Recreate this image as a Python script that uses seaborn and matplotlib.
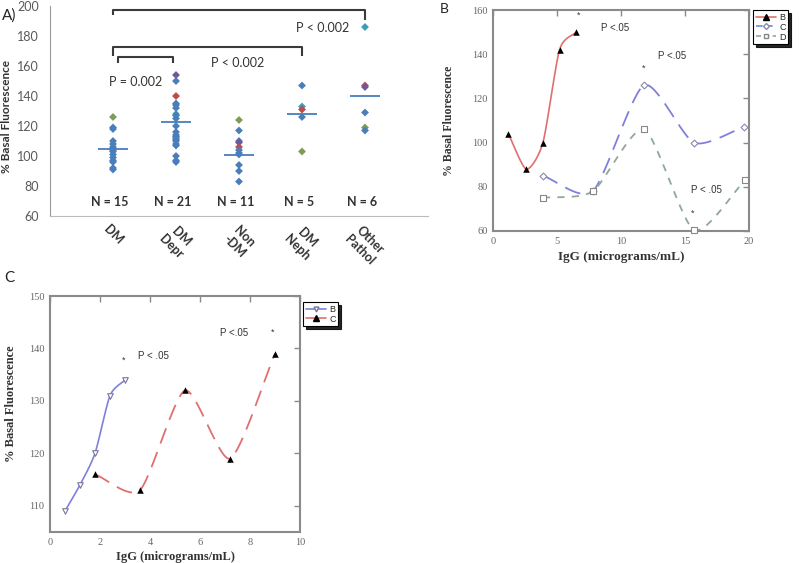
import numpy as np
import pandas as pd
import matplotlib
matplotlib.use("Agg")
import matplotlib.pyplot as plt
import seaborn as sns
from matplotlib.lines import Line2D

# ---------------- panel A data ----------------
groups = ["DM", "DM\nDepr", "Non\n-DM", "DM\nNeph", "Other\nPathol"]
dm_vals = [126, 119, 118, 110, 108, 106, 105, 104, 103, 101, 99, 97, 96, 92, 91]
dm_depr_vals = [154, 150, 140, 135, 134, 132, 128, 127, 125, 120, 116,
                114, 113, 112, 111, 110, 108, 107, 100, 97, 96]
non_dm_vals = [124, 117, 110, 109, 106, 104, 102, 101, 94, 90, 83]
dm_neph_vals = [147, 133, 131, 126, 103]
other_vals = [186, 147, 146, 129, 119, 117]
group_means = [105, 123, 101, 128, 140]
n_labels = ["N = 15", "N = 21", "N = 11", "N = 5", "N = 6"]

# ---------------- panel B data ----------------
b_x = [1.2, 2.6, 3.9, 5.2, 6.5]
b_y = [104, 88, 100, 142, 150]
c_x = [3.9, 7.8, 11.8, 15.7, 19.6]
c_y = [85, 78, 126, 100, 107]
d_x = [3.9, 7.8, 11.8, 15.7, 19.7]
d_y = [75, 78, 106, 60.5, 83]

# ---------------- panel C data ----------------
cb_x = [0.6, 1.2, 1.8, 2.4, 3.0]
cb_y = [109, 114, 120, 131, 134]
cc_x = [1.8, 3.6, 5.4, 7.2, 9.0]
cc_y = [116, 113, 132, 119, 139]

# excel-ish point colours in panel A
BLUE, RED, GREEN, PURPLE, TEAL = "#4a7ebb", "#be4b48", "#7f9c55", "#6f5a95", "#3d9fb5"
tone_of = {("DM", 126): "g",
           ("DM\nDepr", 154): "p", ("DM\nDepr", 140): "r", ("DM\nDepr", 128): "t",
           ("Non\n-DM", 124): "g", ("Non\n-DM", 109): "p", ("Non\n-DM", 106): "r",
           ("DM\nNeph", 133): "t", ("DM\nNeph", 131): "r", ("DM\nNeph", 103): "g",
           ("Other\nPathol", 186): "t", ("Other\nPathol", 147): "r",
           ("Other\nPathol", 146): "p", ("Other\nPathol", 119): "g"}
palette = {"b": BLUE, "r": RED, "g": GREEN, "p": PURPLE, "t": TEAL}


def smooth(x, y, n=30, s=0.35):
    # cardinal spline through the points (smoothed line look)
    p = np.column_stack([x, y]).astype(float)
    p = np.vstack([2 * p[0] - p[1], p, 2 * p[-1] - p[-2]])
    t = np.linspace(0, 1, n)[:, None]
    h00 = 2 * t ** 3 - 3 * t ** 2 + 1
    h10 = t ** 3 - 2 * t ** 2 + t
    h01 = -2 * t ** 3 + 3 * t ** 2
    h11 = t ** 3 - t ** 2
    out = []
    for i in range(1, len(p) - 2):
        m1 = s * (p[i + 1] - p[i - 1])
        m2 = s * (p[i + 2] - p[i])
        out.append(h00 * p[i] + h10 * m1 + h01 * p[i + 1] + h11 * m2)
    c = np.vstack(out)
    return c[:, 0], c[:, 1]


sns.set_style("white")
plt.rcParams["font.family"] = ["Lato", "DejaVu Sans"]

fig = plt.figure(figsize=(8, 5.63), dpi=100)
W, H = 800, 563


def box(l, t, r, b):
    return [l / W, 1 - b / H, (r - l) / W, (b - t) / H]


# ================= panel A =================
axA = fig.add_axes(box(50, 6, 428, 216))
rows = []
for g, vals in zip(groups, [dm_vals, dm_depr_vals, non_dm_vals, dm_neph_vals, other_vals]):
    for v in vals:
        rows.append({"group": g, "value": v, "tone": tone_of.get((g, v), "b")})
dfA = pd.DataFrame(rows)
sns.stripplot(data=dfA, x="group", y="value", hue="tone", order=groups,
              palette=palette, jitter=False, marker="D", size=4, linewidth=0,
              legend=False, ax=axA, zorder=3)
pos = np.arange(len(groups))
axA.hlines(group_means, pos - 0.24, pos + 0.24, color=BLUE, lw=1.3, zorder=2)

axA.set_xlim(-1, 5)
axA.set_ylim(60, 200)
axA.set_yticks(range(60, 201, 20))
axA.set_xticks(pos)
axA.set_xticklabels(groups, rotation=-45, ha="center", va="top",
                    fontsize=9, fontweight="bold", color="#333333")
axA.tick_params(axis="x", length=0, pad=5)
axA.tick_params(axis="y", labelsize=9, labelcolor="#595959", length=4,
                color="#999999", pad=4)
axA.set_xlabel("")
axA.set_ylabel("% Basal Fluorescence", fontsize=8.5, fontweight="bold", color="#333333")
axA.yaxis.set_label_coords(-0.1, 0.476)
for s in ["top", "right"]:
    axA.spines[s].set_visible(False)
axA.spines["left"].set_color("#999999")
axA.spines["bottom"].set_color("#bbbbbb")

for i, t in enumerate(n_labels):
    axA.text(i - 0.05, 69, t, ha="center", va="center", fontsize=9,
             fontweight="bold", color="#333333")

bk = dict(color="#3a3a3a", lw=1.5, solid_capstyle="butt")
axA.plot([0, 0, 4, 4], [194, 197.3, 197.3, 190.7], **bk)
axA.plot([0, 0, 3, 3], [167, 172.7, 172.7, 167], **bk)
axA.plot([0.08, 0.08, 0.95, 0.95], [162, 166, 166, 162], **bk)
axA.text(0.36, 149, "P = 0.002", ha="center", va="center", fontsize=9, color="#333333")
axA.text(1.98, 162, "P < 0.002", ha="center", va="center", fontsize=9, color="#333333")
axA.text(3.33, 185, "P < 0.002", ha="center", va="center", fontsize=9, color="#333333")

# ================= panels B and C (serif style) =================
SERIF = ["Liberation Serif", "DejaVu Serif"]
SANS = ["Liberation Sans", "DejaVu Sans"]


def style_plot(ax):
    for s in ax.spines.values():
        s.set_color("#8a8a8a")
        s.set_linewidth(1.5)
    ax.tick_params(direction="in", top=True, right=True, length=4, width=1,
                   color="#8a8a8a", labelsize=7.5, labelcolor="#666666", pad=4)
    for lab in ax.get_xticklabels() + ax.get_yticklabels():
        lab.set_family(SERIF)


RED_L = "#e07070"
BLUE_L = "#8080dc"
GREY_L = "#8fa89a"

axB = fig.add_axes(box(493, 10, 749, 231))
sx, sy = smooth(b_x, b_y)
sns.lineplot(x=sx, y=sy, sort=False, estimator=None, color=RED_L, lw=1.2, ax=axB)
sx, sy = smooth(c_x, c_y)
sns.lineplot(x=sx, y=sy, sort=False, estimator=None, color=BLUE_L, lw=1.3,
             linestyle=(0, (9, 5)), ax=axB)
sx, sy = smooth(d_x, d_y)
sns.lineplot(x=sx, y=sy, sort=False, estimator=None, color=GREY_L, lw=1.3,
             linestyle=(0, (4, 4)), ax=axB)
sns.scatterplot(x=b_x, y=b_y, marker="^", color="black", s=22, linewidth=0,
                ax=axB, zorder=4, clip_on=False)
sns.scatterplot(x=c_x, y=c_y, marker="D", facecolor="white", edgecolor="#8888aa",
                s=12, linewidth=0.8, ax=axB, zorder=4, clip_on=False)
sns.scatterplot(x=d_x, y=d_y, marker="s", facecolor="white", edgecolor="#888888",
                s=14, linewidth=0.8, ax=axB, zorder=4, clip_on=False)
axB.set_xlim(0, 20)
axB.set_ylim(60, 160)
axB.set_xticks(range(0, 21, 5))
axB.set_yticks(range(60, 161, 20))
style_plot(axB)
axB.set_xlabel("IgG (micrograms/mL)", family=SERIF, fontsize=9.5, fontweight="bold",
               color="#333333", labelpad=4)
axB.set_ylabel("% Basal Fluorescence", family=SERIF, fontsize=8.5, fontweight="bold",
               color="#333333")
axB.yaxis.set_label_coords(-0.15, 0.5)
for x, y, t in [(6.7, 157.7, "*"), (11.8, 133.6, "*"), (15.6, 68, "*")]:
    axB.text(x, y, t, ha="center", va="center", fontsize=6.5, family=SANS, color="#333333")
for x, y in [(8.4, 152), (12.9, 139), (15.5, 78.6)]:
    axB.text(x, y, "P <.05" if y > 100 else "P < .05", ha="left", va="center",
             fontsize=7, family=SANS, color="#333333")

leg_kw = dict(loc="upper left", frameon=True, fancybox=False,
              shadow={"color": "black", "alpha": 0.85}, edgecolor="black",
              prop={"family": SANS, "size": 6.5}, handlelength=2.3,
              borderpad=0.3, labelspacing=0.1, handletextpad=0.3,
              borderaxespad=0)

hB = [Line2D([], [], color=RED_L, lw=1.2, marker="^", ms=4, mfc="black", mec="black"),
      Line2D([], [], color=BLUE_L, lw=1.2, ls=(0, (4, 2)), marker="D", ms=3,
             mfc="white", mec="#8888aa"),
      Line2D([], [], color=GREY_L, lw=1.2, ls=(0, (3, 2)), marker="s", ms=3,
             mfc="white", mec="#888888")]
legB = fig.legend(hB, ["B", "C", "D"], bbox_to_anchor=(753 / W, 1 - 10 / H), **leg_kw)
legB.get_frame().set_linewidth(0.8)

# ================= panel C =================
axC = fig.add_axes(box(50, 296, 300, 532))
sx, sy = smooth(cb_x, cb_y)
sns.lineplot(x=sx, y=sy, sort=False, estimator=None, color=BLUE_L, lw=1.2, ax=axC)
sx, sy = smooth(cc_x, cc_y)
sns.lineplot(x=sx, y=sy, sort=False, estimator=None, color=RED_L, lw=1.3,
             linestyle=(0, (9, 5)), ax=axC)
sns.scatterplot(x=cb_x, y=cb_y, marker="v", facecolor="white", edgecolor="#777799",
                s=16, linewidth=0.8, ax=axC, zorder=4)
sns.scatterplot(x=cc_x, y=cc_y, marker="^", color="black", s=22, linewidth=0,
                ax=axC, zorder=4)
axC.set_xlim(0, 10)
axC.set_ylim(105, 150)
axC.set_xticks(range(0, 11, 2))
axC.set_yticks(range(110, 151, 10))
style_plot(axC)
axC.set_xlabel("IgG (micrograms/mL)", family=SERIF, fontsize=9, fontweight="bold",
               color="#333333", labelpad=3)
axC.set_ylabel("% Basal Fluorescence", family=SERIF, fontsize=9, fontweight="bold",
               color="#333333")
axC.yaxis.set_label_coords(-0.13, 0.542)
for x, y in [(2.96, 137.7), (8.9, 143)]:
    axC.text(x, y, "*", ha="center", va="center", fontsize=6.5, family=SANS, color="#333333")
axC.text(3.5, 138.5, "P < .05", ha="left", va="center", fontsize=7, family=SANS, color="#333333")
axC.text(6.8, 143, "P <.05", ha="left", va="center", fontsize=7, family=SANS, color="#333333")

hC = [Line2D([], [], color=BLUE_L, lw=1.2, marker="v", ms=3.5, mfc="white", mec="#777799"),
      Line2D([], [], color=RED_L, lw=1.2, marker="^", ms=4, mfc="black", mec="black")]
legC = fig.legend(hC, ["B", "C"], bbox_to_anchor=(303 / W, 1 - 302 / H), **leg_kw)
legC.get_frame().set_linewidth(0.8)

# panel letters
fig.text(2 / W, 1 - 16 / H, "A)", fontsize=11, va="center", ha="left", color="#222222")
fig.text(440 / W, 1 - 9 / H, "B", fontsize=10, va="center", ha="left", color="#222222")
fig.text(4 / W, 1 - 278 / H, "C", fontsize=11, va="center", ha="left", color="#222222")

fig.savefig("out.png", dpi=100)
